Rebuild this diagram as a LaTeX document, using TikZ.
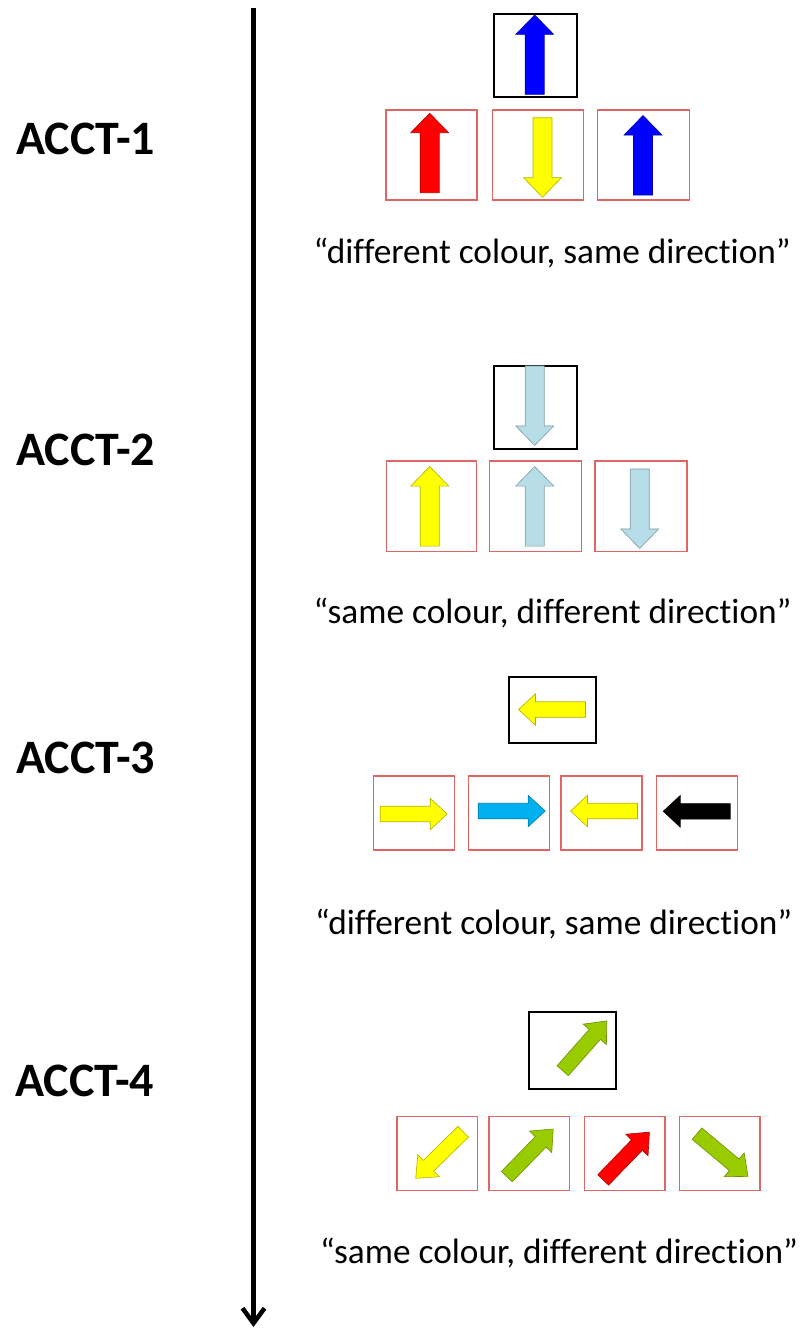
\documentclass[tikz,border=0pt]{standalone}
\usepackage{fontspec}
\setmainfont{Carlito}[Ligatures=NoCommon]
\usetikzlibrary{arrows.meta}
\definecolor{ared}{HTML}{FF0000}
\definecolor{ablue}{HTML}{0000FF}
\definecolor{ayellow}{HTML}{FFFF00}
\definecolor{alight}{HTML}{B7DEE8}
\definecolor{acyan}{HTML}{00B0F0}
\definecolor{agreen}{HTML}{99CC00}
\definecolor{ablack}{HTML}{000000}
\definecolor{boxred}{HTML}{E06666}
\newcommand{\blkarrow}[8]{%
\begin{scope}[shift={(#1,#2)}, rotate=#3]
\filldraw[fill=#8, draw=#8!70!black, line width=0.6pt]
 ({-#4/2},{-#5/2}) -- ({#4/2-#7},{-#5/2}) -- ({#4/2-#7},{-#6/2}) -- ({#4/2},0) -- ({#4/2-#7},{#6/2}) -- ({#4/2-#7},{#5/2}) -- ({-#4/2},{#5/2}) -- cycle;
\end{scope}}
\newcommand{\varrow}[4]{\blkarrow{#1}{#2}{#3}{79.5}{19}{38}{19.5}{#4}}
\newcommand{\harrow}[4]{\blkarrow{#1}{#2}{#3}{67}{15.5}{31.5}{17}{#4}}
\newcommand{\darrow}[4]{\blkarrow{#1}{#2}{#3}{66.5}{15}{31}{18}{#4}}
\tikzset{
  redbox/.style={draw=boxred, line width=1.5pt, inner sep=0pt},
  blackbox/.style={draw=black, line width=2pt, inner sep=0pt},
  acctlabel/.style={anchor=base west, inner sep=0pt, font=\fontsize{48}{52}\selectfont\bfseries},
  quote/.style={anchor=base west, inner sep=0pt, font=\fontsize{35.3}{40}\selectfont},
}
\begin{document}
\begin{tikzpicture}[x=1pt,y=-1pt]
\useasboundingbox (0,0) rectangle (806,1329);
% timeline
\coordinate (ttop) at (253.5,8);
\coordinate (tbot) at (253.5,1327);
\draw[line width=4.5pt, -{Straight Barb[length=15pt,width=22pt]}] (ttop) -- (tbot);
% labels
\node[acctlabel] (l1) at (16,155) {ACCT-1};
\node[acctlabel] (l2) at (16,465) {ACCT-2};
\node[acctlabel] (l3) at (16,773.5) {ACCT-3};
\node[acctlabel] (l4) at (15,1096.5) {ACCT-4};
% quotes
\node[quote] (q1) at (313.5,263.5) {“different colour, same direction”};
\node[quote] (q2) at (313.5,623.5) {“same colour, different direction”};
\node[quote] (q3) at (315,934) {“different colour, same direction”};
\node[quote] (q4) at (320,1263.5) {“same colour, different direction”};
% row 1
\node[blackbox, minimum width=83pt, minimum height=83pt] (b1) at (535.8,55.8) {};
\node[redbox, minimum width=91pt, minimum height=90pt] (r11) at (431.7,155) {};
\node[redbox, minimum width=91pt, minimum height=90pt] (r12) at (538.2,155) {};
\node[redbox, minimum width=92pt, minimum height=90pt] (r13) at (643.5,155) {};
\varrow{534.7}{54.7}{90}{ablue}
\varrow{429.7}{153}{90}{ared}
\varrow{542.5}{157.5}{-90}{ayellow}
\varrow{643}{155.3}{90}{ablue}
% row 2
\node[blackbox, minimum width=83pt, minimum height=83pt] (b2) at (535.8,407) {};
\node[redbox, minimum width=90pt, minimum height=90.5pt] (r21) at (431.7,506.3) {};
\node[redbox, minimum width=92pt, minimum height=90.5pt] (r22) at (535.7,506.3) {};
\node[redbox, minimum width=92pt, minimum height=90.5pt] (r23) at (640.8,506.3) {};
\varrow{534.7}{405.7}{-90}{alight}
\varrow{429.7}{506.3}{90}{ayellow}
\varrow{534.7}{506.3}{90}{alight}
\varrow{639.7}{508.7}{-90}{alight}
% row 3
\node[blackbox, minimum width=86.5pt, minimum height=65.5pt] (b3) at (552.3,710) {};
\node[redbox, minimum width=81pt, minimum height=74pt] (r31) at (413.8,813) {};
\node[redbox, minimum width=81pt, minimum height=74pt] (r32) at (508.8,813) {};
\node[redbox, minimum width=81pt, minimum height=74pt] (r33) at (601.3,813) {};
\node[redbox, minimum width=81pt, minimum height=74pt] (r34) at (697,813) {};
\harrow{552}{709.5}{180}{ayellow}
\harrow{413.7}{814}{0}{ayellow}
\harrow{511.7}{811}{0}{acyan}
\harrow{604}{811}{180}{ayellow}
\harrow{696.7}{811.3}{180}{ablack}
% row 4
\node[blackbox, minimum width=86.5pt, minimum height=77pt] (b4) at (572.7,1050.8) {};
\node[redbox, minimum width=80.5pt, minimum height=74pt] (r41) at (437,1153.7) {};
\node[redbox, minimum width=80.5pt, minimum height=74pt] (r42) at (529.2,1153.7) {};
\node[redbox, minimum width=80.5pt, minimum height=74pt] (r43) at (624.7,1153.7) {};
\node[redbox, minimum width=80.5pt, minimum height=74pt] (r44) at (719.7,1153.7) {};
\darrow{584.7}{1045.8}{48.5}{agreen}
\darrow{439.5}{1155}{-135.6}{ayellow}
\darrow{530}{1152.8}{45.7}{agreen}
\darrow{626.3}{1156}{46}{ared}
\darrow{722.5}{1155}{-40}{agreen}
\end{tikzpicture}
\end{document}
